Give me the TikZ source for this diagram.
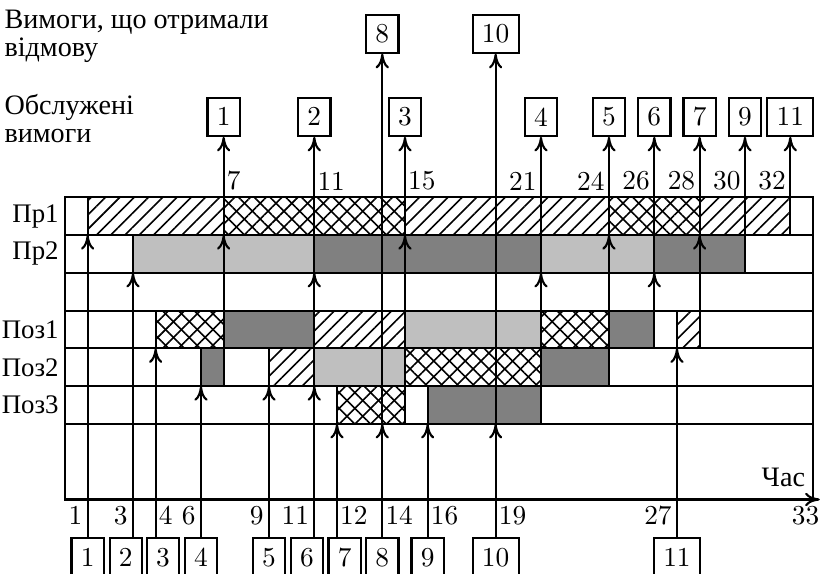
\documentclass[tikz,border=0pt]{standalone}
\usepackage{fontspec}
\newfontfamily\cyrfont{Liberation Serif}
\usetikzlibrary{patterns.meta,arrows.meta}
\newcommand\numsize{\fontsize{10.3}{12}\selectfont}
\newcommand\txtsize{\cyrfont\fontsize{10.6}{10.4}\selectfont}
\newcommand\labsize{\cyrfont\fontsize{10.1}{12}\selectfont}
\tikzset{
  ln/.style={line width=0.8pt},
  arr/.style={line width=0.8pt,-{Computer Modern Rightarrow[length=5.5pt,width=5pt]}},
  bar/.style={draw,line width=0.8pt},
  hatch/.style={pattern={Lines[angle=45,distance=3.8pt,line width=0.6pt]}},
  xhatch/.style={pattern={Lines[angle=45,distance=4.2pt,line width=0.6pt]},
                 postaction={pattern={Lines[angle=-45,distance=4.2pt,line width=0.6pt]}}},
  lgray/.style={fill=black!25},
  dgray/.style={fill=black!50},
  box/.style={draw,line width=0.8pt,minimum height=0.5cm,inner xsep=3.5pt,inner ysep=0pt,font=\numsize},
  tlw/.style={anchor=south west,inner xsep=1pt,inner ysep=2.4pt,font=\numsize},
  tle/.style={anchor=south east,inner xsep=1.5pt,inner ysep=2.4pt,font=\numsize},
  blw/.style={anchor=north west,inner xsep=1pt,inner ysep=2.4pt,font=\numsize},
  ble/.style={anchor=north east,inner xsep=1.8pt,inner ysep=2.4pt,font=\numsize},
  rowlab/.style={anchor=east,inner sep=2.2pt,font=\labsize},
}
\begin{document}
\begin{tikzpicture}[x=0.3cm,y=0.5cm]
\useasboundingbox (-2.867,-1.972) rectangle (33.487,13.222);

% ---- bars: Pr1
\draw[bar,hatch]  (1,7) rectangle (7,8);
\draw[bar,xhatch] (7,7) rectangle (15,8);
\draw[bar,hatch]  (15,7) rectangle (24,8);
\draw[bar,xhatch] (24,7) rectangle (28,8);
\draw[bar,hatch]  (28,7) rectangle (32,8);
% Pr2
\draw[bar,lgray] (3,6) rectangle (11,7);
\draw[bar,dgray] (11,6) rectangle (21,7);
\draw[bar,lgray] (21,6) rectangle (26,7);
\draw[bar,dgray] (26,6) rectangle (30,7);
% Poz1
\draw[bar,xhatch] (4,4) rectangle (7,5);
\draw[bar,dgray]  (7,4) rectangle (11,5);
\draw[bar,hatch]  (11,4) rectangle (15,5);
\draw[bar,lgray]  (15,4) rectangle (21,5);
\draw[bar,xhatch] (21,4) rectangle (24,5);
\draw[bar,dgray]  (24,4) rectangle (26,5);
\draw[bar,hatch]  (27,4) rectangle (28,5);
% Poz2
\draw[bar,dgray]  (6,3) rectangle (7,4);
\draw[bar,hatch]  (9,3) rectangle (11,4);
\draw[bar,lgray]  (11,3) rectangle (15,4);
\draw[bar,xhatch] (15,3) rectangle (21,4);
\draw[bar,dgray]  (21,3) rectangle (24,4);
% Poz3
\draw[bar,xhatch] (12,2) rectangle (15,3);
\draw[bar,dgray]  (16,2) rectangle (21,3);

% ---- grid
\draw[ln] (0,0) rectangle (33,8);
\foreach \yy in {2,...,7} \draw[ln] (0,\yy) -- (33,\yy);
\coordinate (axstart) at (0,0);
\coordinate (axend) at (33.3,0);
\draw[arr] (axstart) -- (axend);

% ---- row labels
\node[rowlab] (lPr1) at (0,7.5) {Пр1};
\node[rowlab] (lPr2) at (0,6.5) {Пр2};
\node[rowlab] (lPoz1) at (0,4.5) {Поз1};
\node[rowlab] (lPoz2) at (0,3.5) {Поз2};
\node[rowlab] (lPoz3) at (0,2.5) {Поз3};
\node[anchor=south east,inner xsep=2.8pt,inner ysep=4.6pt,font=\txtsize] (lTime) at (33,0) {Час};

% ---- legend texts
\node[anchor=north west,inner sep=0pt,align=left,font=\txtsize] (tRej) at (-2.69,12.97) {Вимоги, що отримали\\відмову};
\node[anchor=north west,inner sep=0pt,align=left,font=\txtsize] (tSrv) at (-2.69,10.74) {Обслужені\\вимоги};

% ---- arrival boxes
\node[box,anchor=north] (a1)  at (1,-1) {1};
\node[box,anchor=north] (a2)  at (2.68,-1) {2};
\node[box,anchor=north] (a3)  at (4.32,-1) {3};
\node[box,anchor=north] (a4)  at (6,-1) {4};
\node[box,anchor=north] (a5)  at (9,-1) {5};
\node[box,anchor=north] (a6)  at (10.68,-1) {6};
\node[box,anchor=north] (a7)  at (12.34,-1) {7};
\node[box,anchor=north] (a8)  at (14,-1) {8};
\node[box,anchor=north] (a9)  at (16,-1) {9};
\node[box,anchor=north] (a10) at (19,-1) {10};
\node[box,anchor=north] (a11) at (27,-1) {11};

% ---- served boxes
\node[box,anchor=south] (o1)  at (7,9.6) {1};
\node[box,anchor=south] (o2)  at (11,9.6) {2};
\node[box,anchor=south] (o3)  at (15,9.6) {3};
\node[box,anchor=south] (o4)  at (21,9.6) {4};
\node[box,anchor=south] (o5)  at (24,9.6) {5};
\node[box,anchor=south] (o6)  at (26,9.6) {6};
\node[box,anchor=south] (o7)  at (28,9.6) {7};
\node[box,anchor=south] (o9)  at (30,9.6) {9};
\node[box,anchor=south] (o11) at (32,9.6) {11};
% ---- rejected boxes
\node[box,anchor=south] (r8)  at (14,11.8) {8};
\node[box,anchor=south] (r10) at (19,11.8) {10};

% ---- arrival arrows
\coordinate (e1) at (1,7);
\coordinate (e2) at (3,6);
\coordinate (e3) at (4,4);
\coordinate (e4) at (6,3);
\coordinate (e5) at (9,3);
\coordinate (e6) at (11,3);
\coordinate (e7) at (12,2);
\coordinate (e8) at (14,2);
\coordinate (e9) at (16,2);
\coordinate (e10) at (19,2);
\coordinate (e11) at (27,4);
\foreach \k in {1,...,11} \draw[arr] (a\k.north -| e\k) -- (e\k);

% ---- queue -> device arrows
\coordinate (q3) at (7,5);   \coordinate (p3) at (7,7);
\coordinate (q4) at (11,5);  \coordinate (p4) at (11,6);
\coordinate (q5) at (15,5);  \coordinate (p5) at (15,7);
\coordinate (q6) at (21,5);  \coordinate (p6) at (21,6);
\coordinate (q7) at (24,5);  \coordinate (p7) at (24,7);
\coordinate (q9) at (26,5);  \coordinate (p9) at (26,6);
\coordinate (q11) at (28,5); \coordinate (p11) at (28,7);
\foreach \k in {3,4,5,6,7,9,11} \draw[arr] (q\k) -- (p\k);

% ---- departures
\coordinate (d1) at (7,8);
\coordinate (d2) at (11,7);
\coordinate (d3) at (15,8);
\coordinate (d4) at (21,7);
\coordinate (d5) at (24,8);
\coordinate (d6) at (26,7);
\coordinate (d7) at (28,8);
\coordinate (d9) at (30,7);
\coordinate (d11) at (32,8);
\foreach \k in {1,2,3,4,5,6,7,9,11} \draw[arr] (d\k) -- (o\k.south);
% rejected
\draw[arr] (e8) -- (r8.south);
\draw[arr] (e10) -- (r10.south);

% ---- time labels (top)
\node[tlw] (t7)  at (7,8) {7};
\node[tlw] (t11) at (11,8) {11};
\node[tlw] (t15) at (15,8) {15};
\node[tle] (t21) at (21,8) {21};
\node[tle] (t24) at (24,8) {24};
\node[tle] (t26) at (26,8) {26};
\node[tle] (t28) at (28,8) {28};
\node[tle] (t30) at (30,8) {30};
\node[tle] (t32) at (32,8) {32};
% ---- time labels (bottom)
\node[ble] (s1)  at (1,0) {1};
\node[ble] (s3)  at (3,0) {3};
\node[blw] (s4)  at (4,0) {4};
\node[ble] (s6)  at (6,0) {6};
\node[ble] (s9)  at (9,0) {9};
\node[ble] (s11) at (11,0) {11};
\node[blw] (s12) at (12,0) {12};
\node[blw] (s14) at (14,0) {14};
\node[blw] (s16) at (16,0) {16};
\node[blw] (s19) at (19,0) {19};
\node[ble] (s27) at (27,0) {27};
\node[anchor=north east,inner xsep=0pt,inner ysep=2.4pt,font=\numsize] (s33) at (axend) {33};
\end{tikzpicture}
\end{document}
